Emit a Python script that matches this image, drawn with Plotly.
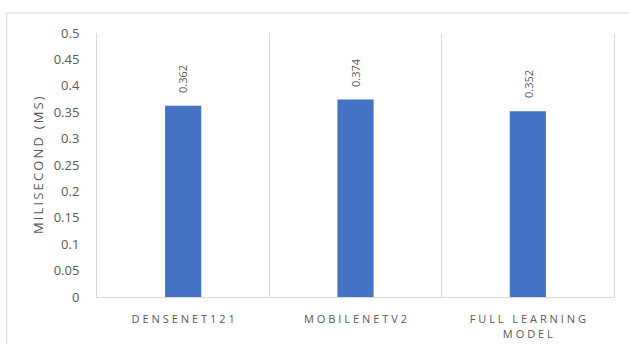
import plotly.graph_objects as go

# Inference time per model
models = ["DENSENET121", "MOBILENETV2", "FULL LEARNING<br>MODEL"]
times_ms = [0.362, 0.374, 0.352]
y_ticks = [0, 0.05, 0.1, 0.15, 0.2, 0.25, 0.3, 0.35, 0.4, 0.45, 0.5]
y_tick_text = ["0", "0.05", "0.1", "0.15", "0.2", "0.25", "0.3", "0.35", "0.4", "0.45", "0.5"]

THIN = "\u2009"
HAIR = "\u200a"


def spaced(label, gap):
    # emulate wide letter spacing of the labels
    return "<br>".join(gap.join(list(line)) for line in label.split("<br>"))


GREY = "#595959"
LINE = "#d9d9d9"
FONT = "Open Sans, Noto Sans, sans-serif"

fig = go.Figure(
    go.Bar(
        x=models,
        y=times_ms,
        marker=dict(color="#4472c4", line=dict(width=0)),
        width=0.21,
        hoverinfo="x+y",
    )
)

# value labels, rotated, floating above each bar
for m, v in zip(models, times_ms):
    fig.add_annotation(
        x=m,
        y=v,
        xref="x",
        yref="y",
        text=f"{v:.3f}",
        textangle=-90,
        showarrow=False,
        xanchor="center",
        yanchor="middle",
        yshift=27,
        font=dict(family=FONT, size=11, color=GREY),
    )

fig.update_layout(
    width=629,
    height=344,
    margin=dict(l=97, r=15, t=33, b=47, autoexpand=False),
    paper_bgcolor="white",
    plot_bgcolor="white",
    showlegend=False,
    font=dict(family=FONT, color=GREY),
    xaxis=dict(
        type="category",
        tickmode="array",
        tickvals=models,
        ticktext=[spaced(m, THIN + HAIR) for m in models],
        tickfont=dict(size=11, color=GREY),
        tickson="boundaries",
        showgrid=True,
        gridcolor=LINE,
        gridwidth=1,
        showline=True,
        linecolor=LINE,
        linewidth=1,
        ticks="",
        ticklabelstandoff=12,
        automargin=False,
    ),
    yaxis=dict(
        range=[0, 0.5],
        tickmode="array",
        tickvals=y_ticks,
        ticktext=y_tick_text,
        tickfont=dict(size=13, color=GREY),
        showgrid=False,
        zeroline=False,
        showline=True,
        linecolor=LINE,
        linewidth=1,
        mirror=True,
        ticks="",
        ticklabelstandoff=14,
        automargin=False,
    ),
)

# y-axis title
fig.add_annotation(
    text=spaced("MILISECOND (MS)", THIN),
    xref="paper",
    yref="paper",
    x=-0.114,
    y=0.5,
    textangle=-90,
    showarrow=False,
    font=dict(family=FONT, size=13, color=GREY),
    xanchor="center",
    yanchor="middle",
)

# chart area border
fig.add_shape(
    type="rect",
    xref="paper",
    yref="paper",
    x0=-0.1744,
    x1=1.2,
    y0=-0.4,
    y1=1.0758,
    line=dict(color=LINE, width=1),
    fillcolor="rgba(0,0,0,0)",
    layer="below",
)

fig.write_html("out.html")
